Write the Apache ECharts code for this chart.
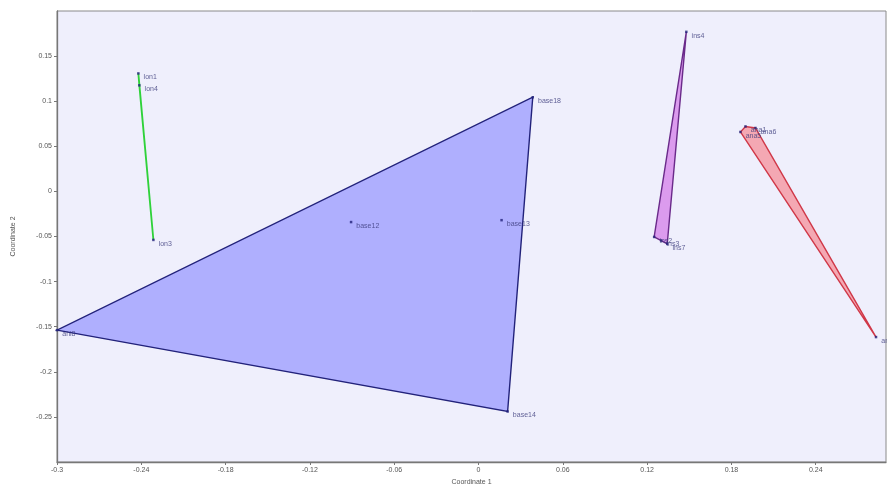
<!DOCTYPE html>
<html lang="en">
<head>
    <meta charset="UTF-8">
    <script src="https://cdn.jsdelivr.net/npm/echarts@6/dist/echarts.min.js"></script>
    <title>Coordinates</title>
</head>
<style>
    body{
        width: 100%;
        height: 100%;
        margin: 0;
        padding: 0;
        background: #fff;
    }
</style>
<body>
<div id="main" style="width: 887px;height:491px;"></div>
</body>
<script>
    // points of each group: x (Coordinate 1), y (Coordinate 2), label
    var lonX = [-0.2421, -0.2414, -0.2314];
    var lonY = [0.1308, 0.1176, -0.0538];
    var lonNames = ['lon1', 'lon4', 'lon3'];

    var baseX = [-0.3, 0.0386, 0.0207, -0.0907, 0.0164];
    var baseY = [-0.1538, 0.1044, -0.244, -0.034, -0.0319];
    var baseNames = ['ahl8', 'base18', 'base14', 'base12', 'base13'];

    var insX = [0.1479, 0.125, 0.1343, 0.1300];
    var insY = [0.1769, -0.0505, -0.0582, -0.0545];
    var insNames = ['ins4', 'ins2', 'ins7', 'ins3'];

    var anaX = [0.1864, 0.1971, 0.2829, 0.1900];
    var anaY = [0.0659, 0.0703, -0.1615, 0.0720];
    var anaNames = ['ana5', 'ana6', 'ana2', 'ana1'];

    var xTicks = [-0.3, -0.24, -0.18, -0.12, -0.06, 0, 0.06, 0.12, 0.18, 0.24];
    var yTicks = [-0.25, -0.2, -0.15, -0.1, -0.05, 0, 0.05, 0.1, 0.15];

    function hull(xs, ys) {
        var p = xs.map(function (x, i) { return [x, ys[i]]; });
        p.sort(function (a, b) { return a[0] - b[0] || a[1] - b[1]; });
        function cross(o, a, b) { return (a[0]-o[0])*(b[1]-o[1]) - (a[1]-o[1])*(b[0]-o[0]); }
        var lo = [], up = [];
        p.forEach(function (q) {
            while (lo.length >= 2 && cross(lo[lo.length-2], lo[lo.length-1], q) <= 0) lo.pop();
            lo.push(q);
        });
        p.slice().reverse().forEach(function (q) {
            while (up.length >= 2 && cross(up[up.length-2], up[up.length-1], q) <= 0) up.pop();
            up.push(q);
        });
        lo.pop(); up.pop();
        return lo.concat(up);
    }

    var groups = [
        {x: lonX, y: lonY, names: lonNames, fill: 'rgba(120,230,120,0.5)', stroke: '#2fd23a', lw: 1.8},
        {x: baseX, y: baseY, names: baseNames, fill: 'rgba(150,150,255,0.72)', stroke: '#22227a', lw: 1.4},
        {x: insX, y: insY, names: insNames, fill: 'rgba(215,140,235,0.85)', stroke: '#6a2a8a', lw: 1.4},
        {x: anaX, y: anaY, names: anaNames, fill: 'rgba(245,150,160,0.8)', stroke: '#d03848', lw: 1.4}
    ];

    var series = [];
    groups.forEach(function (g) {
        var h = hull(g.x, g.y);
        series.push({
            type: 'custom',
            silent: true,
            data: [[g.x[0], g.y[0]]],
            renderItem: function (params, api) {
                var pts = h.map(function (q) { return api.coord(q); });
                return {
                    type: 'polygon',
                    shape: {points: pts},
                    style: {fill: g.fill, stroke: g.stroke, lineWidth: g.lw}
                };
            }
        });
        series.push({
            type: 'scatter',
            symbol: 'rect',
            symbolSize: 2.5,
            itemStyle: {color: '#22227a'},
            data: g.x.map(function (x, i) { return [x, g.y[i], g.names[i]]; }),
            label: {
                show: true,
                position: 'right',
                offset: [-1, 4],
                fontSize: 7,
                color: '#3a3a7a',
                formatter: function (p) { return p.value[2]; }
            }
        });
    });

    var chart = echarts.init(document.getElementById('main'));
    chart.setOption({
        animation: false,
        grid: {
            left: 57, right: 1, top: 11, bottom: 27,
            show: true,
            backgroundColor: '#efeffc',
            borderColor: '#8a8a8a',
            borderWidth: 1
        },
        xAxis: {
            type: 'value',
            min: -0.3,
            max: 0.29,
            interval: 0.06,
            name: 'Coordinate 1',
            nameLocation: 'middle',
            nameGap: 17,
            nameTextStyle: {fontSize: 7, color: '#555'},
            splitLine: {show: false},
            axisLine: {onZero: false, lineStyle: {color: '#777', width: 1.3}},
            axisTick: {length: 3, lineStyle: {color: '#777'}},
            axisLabel: {
                fontSize: 7, color: '#555', margin: 5, showMaxLabel: false,
                formatter: function (v) {
                    var t = xTicks.find(function (k) { return Math.abs(k - v) < 1e-6; });
                    return t === undefined ? '' : String(t);
                }
            }
        },
        yAxis: {
            type: 'value',
            min: -0.3,
            max: 0.2,
            interval: 0.05,
            name: 'Coordinate 2',
            nameLocation: 'middle',
            nameGap: 40,
            nameTextStyle: {fontSize: 7, color: '#555'},
            splitLine: {show: false},
            axisLine: {show: true, onZero: false, lineStyle: {color: '#777', width: 1.3}},
            axisTick: {show: true, length: 3, lineStyle: {color: '#777'}},
            axisLabel: {
                fontSize: 7, color: '#555', margin: 5, showMinLabel: false, showMaxLabel: false,
                formatter: function (v) {
                    var t = yTicks.find(function (k) { return Math.abs(k - v) < 1e-6; });
                    return t === undefined ? '' : String(t);
                }
            }
        },
        series: series
    });
</script>
</html>
